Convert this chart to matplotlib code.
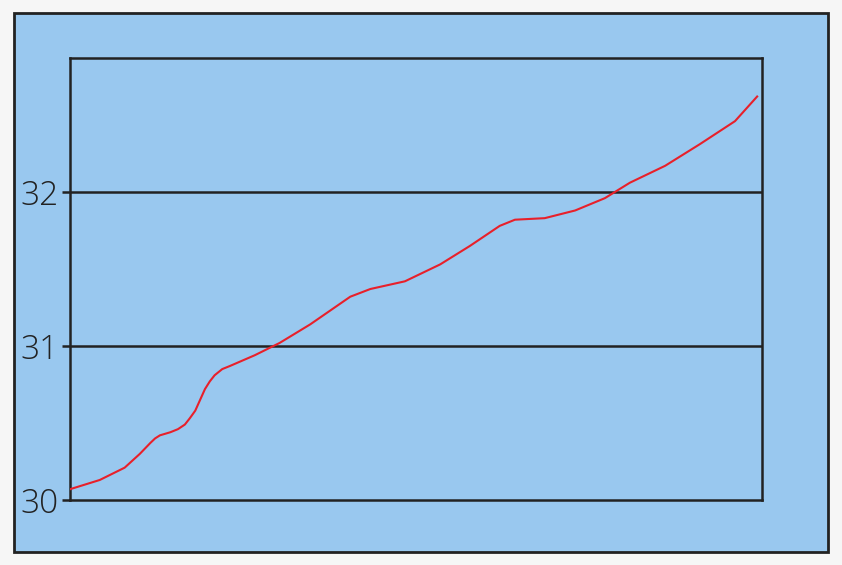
import matplotlib
matplotlib.use('Agg')
import matplotlib.pyplot as plt
from matplotlib.patches import Rectangle

# values (x in arbitrary 0-100 units)
x_vals = [0, 4.3, 7.9, 10.1, 11.6, 12.3, 13.0, 14.5, 15.6, 16.6, 17.3, 18.1,
          18.8, 19.5, 20.2, 20.9, 22.0, 23.1, 26.7,
          30.3, 34.7, 40.5, 43.4, 48.4, 53.5, 57.8, 62.1, 64.3, 68.6, 73.0,
          77.3, 80.9, 86.0, 91.0, 96.1, 99.3]
y_vals = [30.07, 30.13, 30.21, 30.30, 30.37, 30.40, 30.42, 30.44, 30.46, 30.49,
          30.53, 30.58, 30.65, 30.72, 30.77, 30.81, 30.85, 30.87, 30.94,
          31.02, 31.14, 31.32, 31.37, 31.42, 31.53, 31.65, 31.78,
          31.82, 31.83, 31.88, 31.96, 32.06, 32.17, 32.31, 32.46, 32.62]
y_ticks = [30, 31, 32]
y_labels = ['30', '31', '32']

W, H = 842, 565
fig = plt.figure(figsize=(W / 100, H / 100), dpi=100)
fig.patch.set_facecolor('#f6f6f6')

# blue panel with dark frame
panel = Rectangle((14 / W, 1 - 552 / H), (828 - 14) / W, (552 - 13) / H,
                  transform=fig.transFigure, facecolor='#99c8ef',
                  edgecolor='#222222', linewidth=2, zorder=-1)
fig.patches.append(panel)

ax = fig.add_axes([70 / W, 1 - 500 / H, (762 - 70) / W, (500 - 58) / H])
ax.set_zorder(2)
ax.set_facecolor('none')
ax.set_xlim(0, 100)
ax.set_ylim(30, 32.87)

for s in ax.spines.values():
    s.set_color('#222222')
    s.set_linewidth(1.8)

for t in [31, 32]:
    ax.axhline(t, color='#222222', lw=1.8, zorder=1)

ax.plot(x_vals, y_vals, color='#e8202a', lw=1.5, zorder=3,
        solid_joinstyle='round')

ax.set_xticks([])
ax.set_yticks(y_ticks)
ax.set_yticklabels(y_labels, fontsize=24, family='Open Sans', fontweight='light',
                   color='#222222')
ax.tick_params(axis='y', direction='out', length=6, width=1.8, color='#222222', pad=2)

fig.savefig('out.png', dpi=100, facecolor=fig.get_facecolor())
